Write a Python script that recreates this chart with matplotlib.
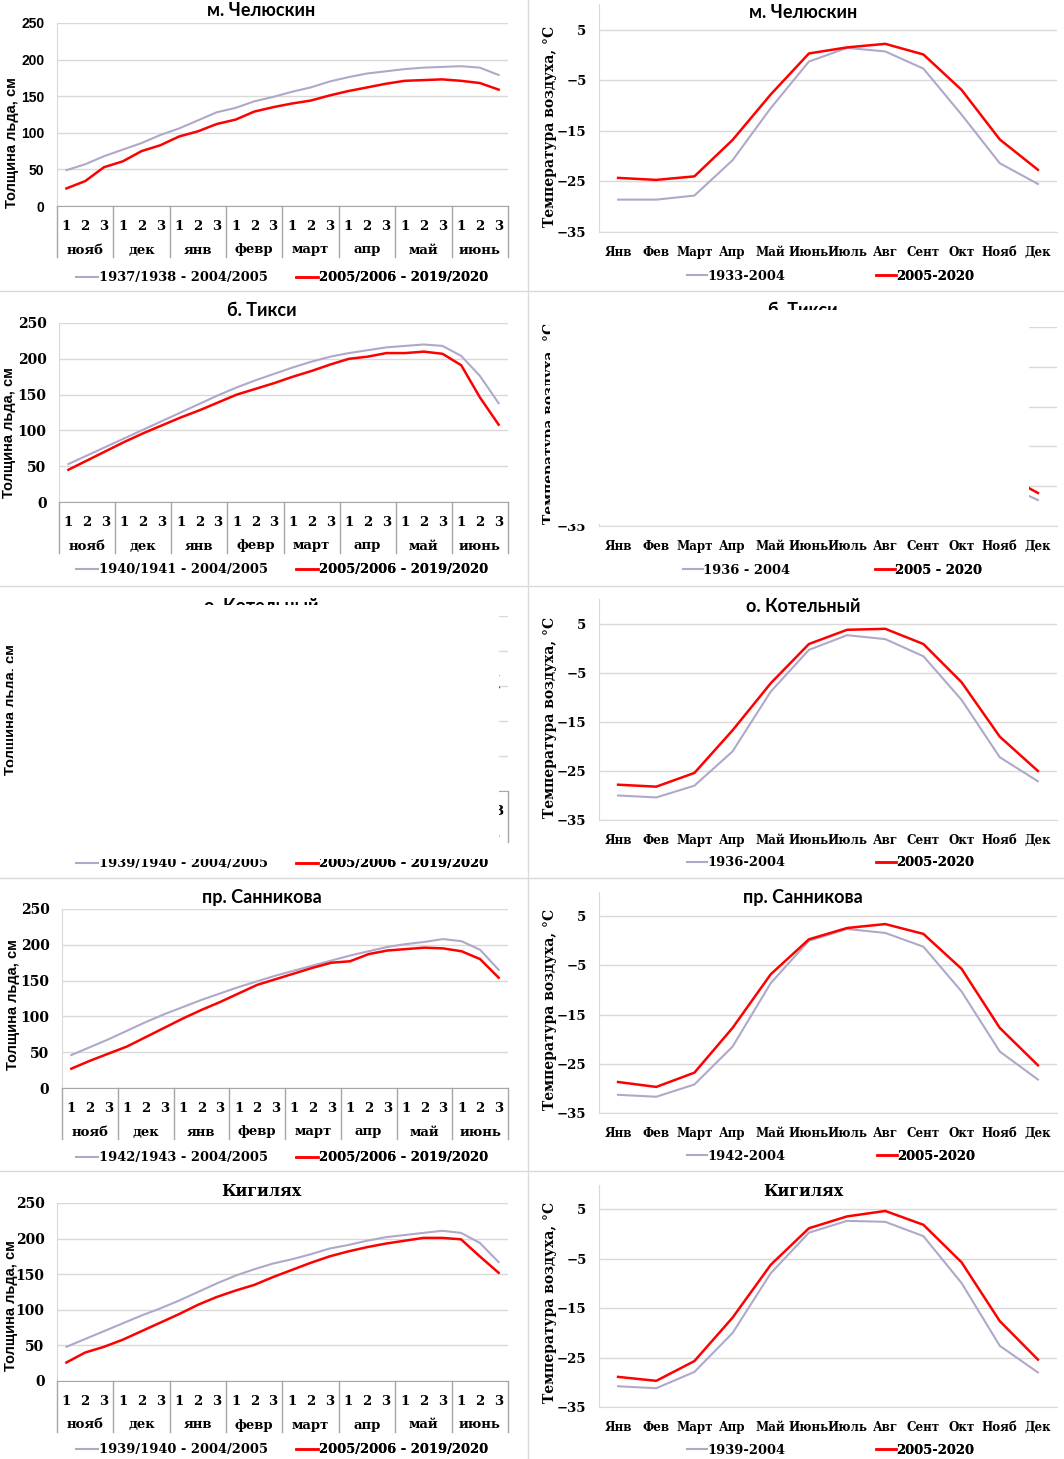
import matplotlib
matplotlib.use('Agg')
import matplotlib.pyplot as plt
from matplotlib.patches import Rectangle
from matplotlib.lines import Line2D
import numpy as np

W, H = 1064, 1459
fig = plt.figure(figsize=(W / 100, H / 100), dpi=100)

# ---------------- data ----------------
decades = ['1', '2', '3']
ice_months = ['нояб', 'дек', 'янв', 'февр', 'март', 'апр', 'май', 'июнь']
temp_months = ['Янв', 'Фев', 'Март', 'Апр', 'Май', 'Июнь', 'Июль', 'Авг', 'Сент', 'Окт', 'Нояб', 'Дек']

chel_ice_old = [49, 57, 68, 77, 86, 97, 106, 117, 128, 134, 143, 149, 156, 162, 170, 176, 181, 184, 187, 189, 190, 191, 189, 179]
chel_ice_new = [24, 34, 53, 61, 75, 83, 95, 102, 112, 118, 129, 135, 140, 144, 151, 157, 162, 167, 171, 172, 173, 171, 168, 159]
tiksi_ice_old = [53, 65, 77, 89, 101, 113, 125, 137, 149, 160, 170, 179, 188, 196, 203, 208, 212, 216, 218, 220, 218, 204, 176, 138]
tiksi_ice_new = [45, 58, 71, 84, 96, 107, 118, 128, 139, 150, 158, 166, 175, 183, 192, 200, 203, 208, 208, 210, 207, 191, 146, 108]
kot_ice_old = [47, 58, 69, 80, 91, 101, 111, 121, 131, 140, 149, 157, 165, 172, 179, 186, 192, 197, 201, 204, 206, 204, 192, 165]
kot_ice_new = [30, 41, 51, 61, 72, 83, 94, 104, 114, 124, 134, 143, 151, 159, 166, 173, 179, 184, 188, 191, 192, 189, 176, 148]
sann_ice_old = [46, 57, 68, 80, 92, 103, 113, 123, 132, 141, 149, 157, 164, 171, 178, 185, 191, 197, 201, 204, 208, 205, 193, 165]
sann_ice_new = [27, 38, 48, 58, 71, 84, 97, 109, 120, 132, 144, 152, 160, 168, 175, 177, 187, 192, 194, 196, 195, 191, 180, 154]
kig_ice_old = [48, 59, 70, 81, 92, 102, 113, 125, 137, 148, 157, 165, 171, 178, 186, 191, 197, 202, 205, 208, 211, 208, 194, 167]
kig_ice_new = [26, 40, 48, 58, 70, 82, 94, 107, 118, 127, 135, 146, 156, 166, 175, 182, 188, 193, 197, 201, 201, 199, 175, 152]

chel_t_old = [-28.6, -28.6, -27.8, -20.8, -10.5, -1.3, 1.4, 0.7, -2.7, -11.8, -21.4, -25.5]
chel_t_new = [-24.3, -24.7, -24.0, -16.8, -7.8, 0.3, 1.5, 2.2, 0.1, -6.9, -16.7, -22.7]
tiksi_t_old = [-31.5, -32.0, -28.0, -19.5, -7.0, 3.5, 7.5, 6.5, 1.0, -9.0, -24.0, -28.5]
tiksi_t_new = [-29.5, -30.0, -25.5, -16.5, -5.0, 5.0, 9.0, 8.0, 2.5, -6.5, -21.5, -26.7]
kot_t_old = [-30.0, -30.4, -28.0, -21.0, -8.8, -0.3, 2.7, 1.9, -1.6, -10.5, -22.2, -27.1]
kot_t_new = [-27.8, -28.2, -25.4, -16.7, -7.1, 0.9, 3.8, 4.0, 0.9, -6.9, -18.0, -25.0]
sann_t_old = [-31.3, -31.7, -29.2, -21.5, -8.6, 0.0, 2.4, 1.6, -1.2, -10.3, -22.5, -28.2]
sann_t_new = [-28.7, -29.7, -26.8, -17.7, -6.8, 0.3, 2.6, 3.4, 1.4, -5.7, -17.7, -25.3]
kig_t_old = [-30.8, -31.2, -27.9, -20.0, -7.9, 0.3, 2.7, 2.5, -0.4, -9.9, -22.6, -28.0]
kig_t_new = [-28.9, -29.7, -25.7, -16.9, -6.2, 1.2, 3.6, 4.7, 1.9, -5.7, -17.6, -25.4]

# ---------------- style ----------------
GREY = '#b0a8c8'
RED = '#ff0000'
GRID = '#d9d9d9'
AXC = '#a6a6a6'
SERIF = 'DejaVu Serif'
SANS = 'Liberation Sans'
TSANS = 'Lato'


def add_ax(left, top, right, bottom):
    return fig.add_axes([left / W, 1 - bottom / H, (right - left) / W, (bottom - top) / H])


def fx(x):
    return x / W


def fy(y):
    return 1 - y / H


def legend_entry(ax, handle, label, x, y, hl):
    leg = ax.legend([handle], [label], loc='center left', bbox_to_anchor=(fx(x), fy(y)),
                    bbox_transform=fig.transFigure, frameon=False, borderpad=0,
                    borderaxespad=0, handlelength=hl, handletextpad=0.05,
                    prop={'family': SERIF, 'weight': 'bold', 'size': 9.4})
    ax.add_artist(leg)


def style_ticks(labels, family, size):
    for t in labels:
        t.set_fontfamily(family)
        t.set_fontweight('bold')
        t.set_fontsize(size)


def ice_panel(title, old, new, lo, ln, left, top, bottom, title_y, ylab_x, ylab_y, leg_y,
              tick_family, title_family, right=508):
    ax = add_ax(left, top, right, bottom)
    hpx = bottom - top
    x = np.arange(24)
    l1, = ax.plot(x, old, color=GREY, lw=1.5, zorder=3)
    l2, = ax.plot(x, new, color=RED, lw=1.8, zorder=4)
    ax.set_xlim(-0.5, 23.5)
    ax.set_ylim(0, 250)
    ax.set_yticks(range(0, 251, 50))
    ax.yaxis.grid(True, color=GRID, lw=1)
    ax.set_axisbelow(True)
    for s in ['top', 'right']:
        ax.spines[s].set_visible(False)
    ax.spines['left'].set_color(GRID)
    ax.spines['bottom'].set_color(AXC)
    ax.tick_params(axis='y', length=0, pad=9)
    style_ticks(ax.get_yticklabels(), tick_family, 10)
    ax.set_xticks(x, decades * 8)
    ax.tick_params(axis='x', length=0, pad=10)
    style_ticks(ax.get_xticklabels(), SERIF, 9.5)
    tr = ax.get_xaxis_transform()
    for b in np.arange(-0.5, 24, 3):
        ax.add_line(Line2D([b, b], [0, -51 / hpx], transform=tr, color=AXC, lw=1, clip_on=False))
    for m, name in enumerate(ice_months):
        ax.text(3 * m + 1, -44 / hpx, name, transform=tr, ha='center', va='center',
                family=SERIF, weight='bold', fontsize=9.5)
    ax.set_ylabel('Толщина льда, см', family=SANS, weight='bold', fontsize=10.5, va='center')
    ax.yaxis.set_label_coords((ylab_x - left) / (right - left), (bottom - ylab_y) / hpx)
    fig.text(fx(261.5), fy(title_y), title, ha='center', va='center', family=title_family,
             weight='bold', fontsize=13 if title_family == TSANS else 11.5)
    legend_entry(ax, l1, lo, 76, leg_y, 1.7)
    legend_entry(ax, l2, ln, 296, leg_y, 1.7)
    return ax


def temp_panel(title, old, new, lo, ln, top, bottom, ymax, title_y, ylab_y, leg_y, title_family,
               left=599, right=1057, gx=687, rx=876):
    ax = add_ax(left, top, right, bottom)
    x = np.arange(12)
    l1, = ax.plot(x, old, color=GREY, lw=1.5, zorder=3)
    l2, = ax.plot(x, new, color=RED, lw=1.8, zorder=4)
    ax.set_xlim(-0.5, 11.5)
    ax.set_ylim(-35, ymax)
    ax.set_yticks(range(-35, ymax + 1, 10))
    ax.yaxis.grid(True, color=GRID, lw=1)
    ax.set_axisbelow(True)
    for s in ['top', 'right']:
        ax.spines[s].set_visible(False)
    ax.spines['left'].set_color(GRID)
    ax.spines['bottom'].set_color(GRID)
    ax.tick_params(axis='y', length=0, pad=9)
    style_ticks(ax.get_yticklabels(), SERIF, 9.5)
    ax.set_xticks(x, temp_months)
    ax.tick_params(axis='x', length=0, pad=10)
    style_ticks(ax.get_xticklabels(), SERIF, 8.6)
    ax.set_ylabel('Температура воздуха, °С', family=SERIF, weight='bold', fontsize=10, va='center')
    ax.yaxis.set_label_coords((549.6 - left) / (right - left), (bottom - ylab_y) / (bottom - top))
    fig.text(fx(803), fy(title_y), title, ha='center', va='center', family=title_family,
             weight='bold', fontsize=13 if title_family == TSANS else 11.5)
    legend_entry(ax, l1, lo, gx, leg_y, 1.5)
    legend_entry(ax, l2, ln, rx, leg_y, 1.5)
    return ax


# ---------------- ice panels ----------------
ice_panel('м. Челюскин', chel_ice_old, chel_ice_new, '1937/1938 - 2004/2005', '2005/2006 - 2019/2020',
          57, 23, 206, 11, 12, 143, 278, SANS, TSANS)
ice_panel('б. Тикси', tiksi_ice_old, tiksi_ice_new, '1940/1941 - 2004/2005', '2005/2006 - 2019/2020',
          59, 323, 502, 310, 9.5, 433, 570, SERIF, TSANS)
ice_panel('о. Котельный', kot_ice_old, kot_ice_new, '1939/1940 - 2004/2005', '2005/2006 - 2019/2020',
          57, 616, 791, 606, 11, 710, 864, SERIF, TSANS)
ice_panel('пр. Санникова', sann_ice_old, sann_ice_new, '1942/1943 - 2004/2005', '2005/2006 - 2019/2020',
          62, 909, 1088, 897, 12.7, 1005, 1158, SERIF, TSANS)
ice_panel('Кигилях', kig_ice_old, kig_ice_new, '1939/1940 - 2004/2005', '2005/2006 - 2019/2020',
          57, 1203, 1381, 1191, 11, 1306, 1450, SERIF, SERIF)

# ---------------- temperature panels ----------------
temp_panel('м. Челюскин', chel_t_old, chel_t_new, '1933-2004', '2005-2020',
           4.4, 232, 10, 12, 126, 276, TSANS)
temp_panel('б. Тикси', tiksi_t_old, tiksi_t_new, '1936 - 2004', '2005 - 2020',
           327, 526, 15, 311, 423, 570, TSANS, gx=683, rx=875)
temp_panel('о. Котельный', kot_t_old, kot_t_new, '1936-2004', '2005-2020',
           599.4, 820, 10, 606, 717, 863, TSANS)
temp_panel('пр. Санникова', sann_t_old, sann_t_new, '1942-2004', '2005-2020',
           891.6, 1113, 10, 898, 1009, 1156, TSANS, rx=877)
temp_panel('Кигилях', kig_t_old, kig_t_new, '1939-2004', '2005-2020',
           1184.8, 1407, 10, 1192, 1302, 1450, SERIF)

# ---------------- panel separators ----------------
for y in [291, 585.5, 877.5, 1171]:
    fig.add_artist(Line2D([0, 1], [fy(y), fy(y)], transform=fig.transFigure, color=GRID, lw=1))
fig.add_artist(Line2D([fx(528), fx(528)], [0, 1], transform=fig.transFigure, color=GRID, lw=1))

# ---------------- blanked (unrendered) regions of the source ----------------
fig.add_artist(Rectangle((fx(549.6), fy(524)), (1028.5 - 549.6) / W, (524 - 309.5) / H,
                         transform=fig.transFigure, facecolor='white', edgecolor='none', zorder=20))
fig.add_artist(Rectangle((fx(12.5), fy(859)), (499 - 12.5) / W, (859 - 605) / H,
                         transform=fig.transFigure, facecolor='white', edgecolor='none', zorder=20))

fig.savefig('out.png', dpi=100, facecolor='white')
